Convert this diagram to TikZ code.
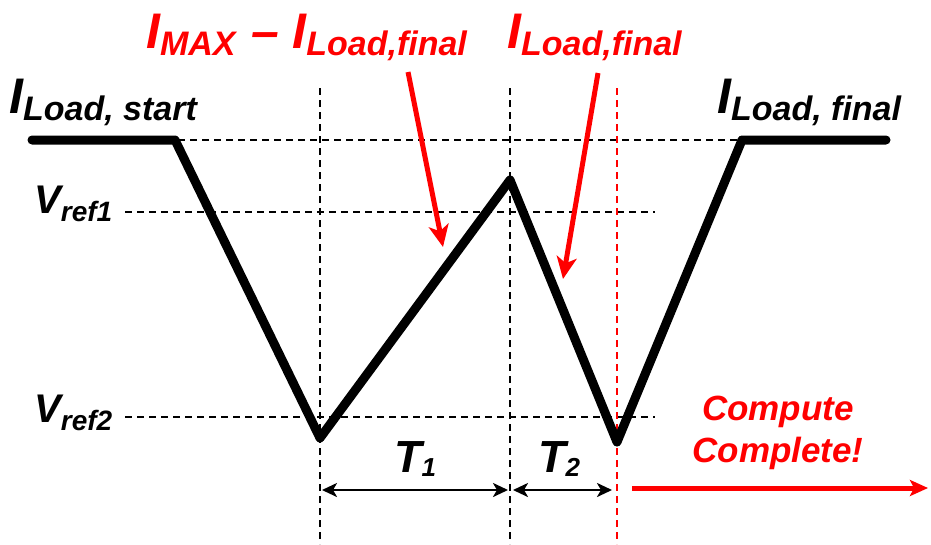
\documentclass[tikz,border=0pt]{standalone}
\usepackage{fontspec}
\setmainfont{Liberation Sans}
\usetikzlibrary{arrows.meta}
\definecolor{redc}{RGB}{255,0,0}
\newcommand\bigsub[2]{{\fontsize{50}{50}\selectfont #1}\raisebox{-7pt}{\fontsize{34}{34}\selectfont #2}}
\newcommand\vsub[2]{{\fontsize{40}{40}\selectfont #1}\raisebox{-8pt}{\fontsize{28}{28}\selectfont #2}}
\newcommand\tsub[2]{{\fontsize{45}{45}\selectfont #1}\raisebox{-4pt}{\fontsize{26}{26}\selectfont #2}}
\begin{document}
\begin{tikzpicture}[x=1pt,y=-1pt,
  lbl/.style={font=\bfseries\itshape, inner sep=0pt, anchor=base west},
  wave/.style={line width=9pt, line join=round, line cap=round},
  guide/.style={line width=2.5pt, dash pattern=on 7pt off 5pt},
  dim/.style={line width=2.5pt, {Stealth[length=15pt,width=14pt,inset=4pt]}-{Stealth[length=15pt,width=14pt,inset=4pt]}},
  callout/.style={line width=5pt, redc, -{Stealth[length=22pt,width=20pt,inset=6pt]}}]
\useasboundingbox (0,0) rectangle (931,544);
% waveform points
\coordinate (s0) at (32,140);
\coordinate (s1) at (175,140);
\coordinate (m1) at (320,438);
\coordinate (pk) at (510,180);
\coordinate (m2) at (617,442);
\coordinate (e1) at (742,140);
\coordinate (e0) at (886,140);
% guide coordinates
\coordinate (hl) at (178,140); \coordinate (hr) at (745,140);
\coordinate (r1l) at (125,212); \coordinate (r1r) at (655,212);
\coordinate (r2l) at (125,417); \coordinate (r2r) at (655,417);
\coordinate (v1t) at (320,88); \coordinate (v1b) at (320,544);
\coordinate (v2t) at (510,88); \coordinate (v2b) at (510,544);
\coordinate (v3t) at (617,88); \coordinate (v3b) at (617,544);
% guides
\draw[guide] (hl) -- (hr);
\draw[guide] (r1l) -- (r1r);
\draw[guide] (r2l) -- (r2r);
\draw[guide] (v1t) -- (v1b);
\draw[guide] (v2t) -- (v2b);
\draw[guide, redc] (v3t) -- (v3b);
% waveform
\draw[wave] (s0) -- (s1) -- (m1) -- (pk) -- (m2) -- (e1) -- (e0);
% labels
\node[lbl] (ls) at (9,113) {\bigsub{I}{Load, start}};
\node[lbl] (lf) at (717,113) {\bigsub{I}{Load, final}};
\node[lbl, text=redc] (lmax) at (146,48) {\bigsub{I}{MAX}\hspace{16pt}{\fontsize{50}{50}\selectfont –}\hspace{13pt}\bigsub{I}{Load,final}};
\node[lbl, text=redc] (lfin) at (507,48) {\bigsub{I}{Load,final}};
\node[lbl] (vr1) at (34,213) {\vsub{V}{ref1}};
\node[lbl] (vr2) at (34,422) {\vsub{V}{ref2}};
\node[lbl] (t1) at (394,472) {\tsub{T}{1}};
\node[lbl] (t2) at (538,472) {\tsub{T}{2}};
\node[font=\bfseries\itshape\fontsize{35}{42}\selectfont, text=redc, align=center, inner sep=0pt, anchor=base] (cc) at (778,462) {Compute\\Complete!};
% dimension arrows
\coordinate (a1l) at (322,490); \coordinate (a1r) at (508,490);
\coordinate (a2l) at (513,490); \coordinate (a2r) at (612,490);
\draw[dim] (a1l) -- (a1r);
\draw[dim] (a2l) -- (a2r);
% red arrows
\coordinate (c1s) at (408,72); \coordinate (c1e) at (443,247);
\coordinate (c2s) at (598,73); \coordinate (c2e) at (563,279);
\coordinate (c3s) at (632,488); \coordinate (c3e) at (928,488);
\draw[callout] (c1s) -- (c1e);
\draw[callout] (c2s) -- (c2e);
\draw[line width=5pt, redc, -{Stealth[length=18pt,width=16pt,inset=4pt]}] (c3s) -- (c3e);
\end{tikzpicture}
\end{document}
